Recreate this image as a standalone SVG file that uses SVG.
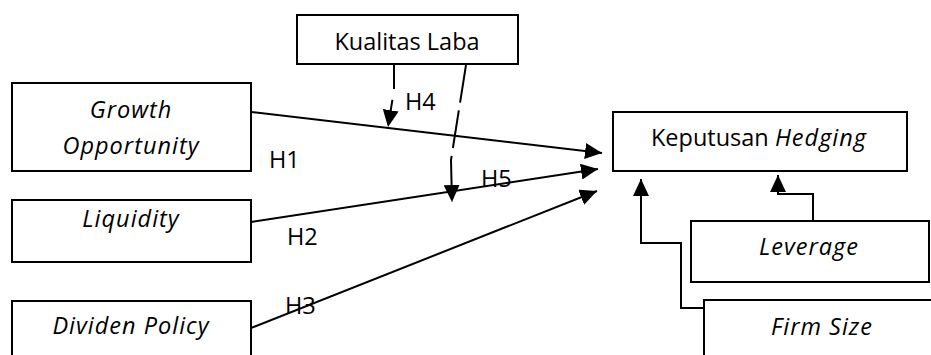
<svg xmlns="http://www.w3.org/2000/svg" width="931" height="355" viewBox="0 0 931 355">
<defs>
<style>
.box{fill:#fff;stroke:#000;stroke-width:2}
.t{font-family:"Open Sans","Noto Sans",sans-serif;font-size:23.5px;fill:#000}
.c{text-anchor:middle}
.i{font-style:italic;letter-spacing:1px}
.ln{fill:none;stroke:#000;stroke-width:2}
.dash1{stroke-dasharray:24 11}
.dash2{stroke-dasharray:38 8}
</style>
<marker id="ah" viewBox="0 0 17 16" refX="17" refY="8" markerWidth="17" markerHeight="16" markerUnits="userSpaceOnUse" orient="auto">
<path d="M0,0 L17,8 L0,16 z" fill="#000"/>
</marker>
</defs>
<rect width="931" height="355" fill="#fff"/>
<g id="connectors">
<path class="ln" d="M251,112 L602,153" marker-end="url(#ah)"/>
<path class="ln" d="M251,222 L598,169" marker-end="url(#ah)"/>
<path class="ln" d="M251,328 L597,191" marker-end="url(#ah)"/>
<path class="ln dash1" d="M394,65 V90 L388,127" marker-end="url(#ah)"/>
<path class="ln dash2" d="M466,65 L451,160 L452,202" marker-end="url(#ah)"/>
<path class="ln" d="M813,221 V194 H778 V175" marker-end="url(#ah)"/>
<path class="ln" d="M704,308 H681 V243 H641 V179" marker-end="url(#ah)"/>
<text class="t" x="269" y="168">H1</text>
<text class="t" x="287" y="245">H2</text>
<text class="t" x="285" y="314">H3</text>
<text class="t" x="405" y="110">H4</text>
<text class="t" x="481" y="187">H5</text>
</g>
<g id="growth">
<rect class="box" x="12" y="83" width="239" height="88"/>
<text class="t c i" x="131" y="118">Growth</text>
<text class="t c i" x="131" y="154">Opportunity</text>
</g>
<g id="liquidity">
<rect class="box" x="12" y="200" width="239" height="62"/>
<text class="t c i" x="131" y="227">Liquidity</text>
</g>
<g id="dividen">
<rect class="box" x="12" y="301" width="239" height="80"/>
<text class="t c i" x="131" y="334">Dividen Policy</text>
</g>
<g id="kualitas">
<rect class="box" x="297" y="15" width="221" height="49"/>
<text class="t c" x="407" y="50">Kualitas Laba</text>
</g>
<g id="keputusan">
<rect class="box" x="613" y="112" width="294" height="59"/>
<text class="t c" x="759" y="146">Keputusan <tspan class="i">Hedging</tspan></text>
</g>
<g id="leverage">
<rect class="box" x="691" y="221" width="238" height="61"/>
<text class="t c i" x="809" y="255">Leverage</text>
</g>
<g id="firmsize">
<rect class="box" x="704" y="300" width="240" height="80"/>
<text class="t c i" x="822" y="335">Firm Size</text>
</g>
</svg>
